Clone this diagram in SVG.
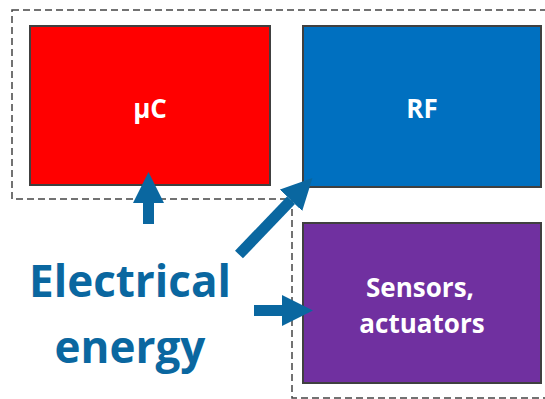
<svg xmlns="http://www.w3.org/2000/svg" width="545" height="399" viewBox="0 0 545 399">
<style>
.box{stroke:#404040;stroke-width:2}
.lbl{fill:#fff;font-family:"Open Sans","Liberation Sans",sans-serif;font-weight:bold;font-size:26px;text-anchor:middle}
.big{fill:#0A67A0;font-family:"Open Sans","Liberation Sans",sans-serif;font-weight:bold;font-size:44px;text-anchor:middle}
.dash{fill:none;stroke:#444;stroke-width:1.5;stroke-dasharray:7 4}
.arr{stroke:#0A67A0;stroke-width:11;fill:none;marker-end:url(#head)}
</style>
<defs>
<marker id="head" markerUnits="userSpaceOnUse" markerWidth="31" markerHeight="31" viewBox="0 0 31 31" refX="0" refY="15.5" orient="auto">
<path d="M0,0 L31,15.5 L0,31 z" fill="#0A67A0"/>
</marker>
</defs>
<path class="dash" d="M12,10 L560,10 L560,398 L292,398 L292,199 L12,199 Z"/>
<g id="uc">
<rect class="box" x="30" y="26" width="240" height="159" fill="#FF0000"/>
<text class="lbl" x="150" y="118">μC</text>
</g>
<g id="rf">
<rect class="box" x="303" y="26" width="238" height="161" fill="#0070C0"/>
<text class="lbl" x="422" y="118">RF</text>
</g>
<g id="sensors">
<rect class="box" x="303" y="223" width="238" height="160" fill="#7030A0"/>
<text class="lbl" x="420" y="297">Sensors,</text>
<text class="lbl" x="422" y="333">actuators</text>
</g>
<g id="energy">
<text class="big" x="130" y="297">Electrical</text>
<text class="big" x="130" y="363">energy</text>
</g>
<g id="connectors">
<line class="arr" x1="148.5" y1="224" x2="148.5" y2="203"/>
<line class="arr" x1="254" y1="310.5" x2="282" y2="310.5"/>
<line class="arr" x1="239" y1="254.5" x2="291" y2="200.3"/>
</g>
</svg>
